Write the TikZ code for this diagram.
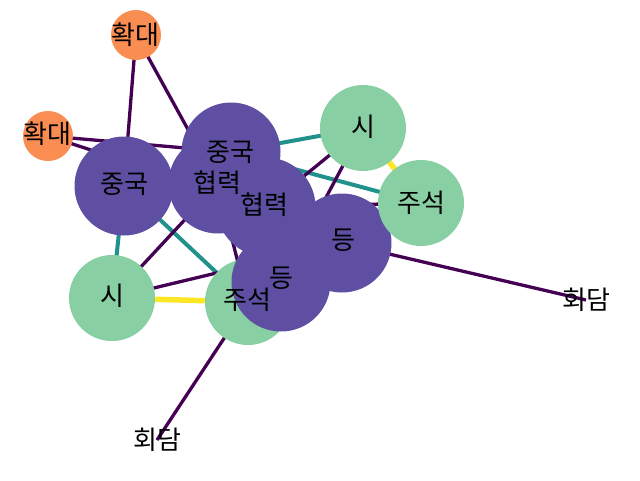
\documentclass[tikz,border=0pt]{standalone}
\usepackage{fontspec}
\newfontfamily\kr{Noto Sans CJK KR}
\definecolor{norange}{RGB}{250,142,82}
\definecolor{npurple}{RGB}{94,79,162}
\definecolor{ngreen}{RGB}{136,207,164}
\definecolor{edark}{RGB}{68,1,84}
\definecolor{eteal}{RGB}{33,145,140}
\definecolor{eyellow}{RGB}{253,231,37}
\begin{document}
\begin{tikzpicture}[x=1pt,y=-1pt,
  ed/.style={draw=edark,line width=3.3pt},
  et/.style={draw=eteal,line width=4pt},
  ey/.style={draw=eyellow,line width=5.5pt},
  small/.style={circle,fill=norange,minimum size=50pt,inner sep=0pt},
  big/.style={circle,fill=npurple,minimum size=99pt,inner sep=0pt},
  mid/.style={circle,fill=ngreen,minimum size=86pt,inner sep=0pt},
  lab/.style={font=\kr\fontsize{26}{26}\selectfont,text=black,inner sep=0pt}]
\useasboundingbox (0,0) rectangle (640,480);
% positions
\coordinate (pHt) at (136,35);
\coordinate (pHl) at (48,136);
\coordinate (pCl) at (124,186);
\coordinate (pCm) at (231,152);
\coordinate (pXa) at (218,184);
\coordinate (pXb) at (266,207);
\coordinate (pDa) at (342,243);
\coordinate (pDb) at (281,282);
\coordinate (pSr) at (363,128);
\coordinate (pJr) at (421,203);
\coordinate (pSl) at (112,298);
\coordinate (pJl) at (248,302);
\coordinate (pMr) at (586,300);
\coordinate (pMb) at (157,440);
% edges
\draw[ed] (pHt) -- (pCl);
\draw[ed] (pHt) -- (pXa);
\draw[ed] (pHl) -- (pCm);
\draw[ed] (pHl) -- (pXb);
\draw[et] (pCm) -- (pSr);
\draw[et] (pCm) -- (pJr);
\draw[ed] (pSr) -- (pXb);
\draw[ed] (pSr) -- (pDb);
\draw[ey] (pSr) -- (pJr);
\draw[ed] (pXb) -- (pJr);
\draw[ed] (pDa) -- (pMr);
\draw[et] (pCl) -- (pSl);
\draw[et] (pCl) -- (pJl);
\draw[ed] (pSl) -- (pXa);
\draw[ed] (pSl) -- (pDa);
\draw[ey] (pSl) -- (pJl);
\draw[ed] (pXa) -- (pJl);
\draw[ed] (pJl) -- (pMb);
% nodes
\node[small] (Ht) at (pHt) {};
\node[small] (Hl) at (pHl) {};
\node[big] (Cl) at (pCl) {};
\node[big] (Cm) at (pCm) {};
\node[big] (Xa) at (pXa) {};
\node[big] (Xb) at (pXb) {};
\node[big] (Da) at (pDa) {};
\node[mid] (Sr) at (pSr) {};
\node[mid] (Jr) at (pJr) {};
\node[mid] (Sl) at (pSl) {};
\node[mid] (Jl) at (pJl) {};
\node[big] (Db) at (pDb) {};
% labels
\node[lab] (tHt) at (135,35) {확대};
\node[lab] (tHl) at (47,134) {확대};
\node[lab] (tCl) at (124,184) {중국};
\node[lab] (tCm) at (230,152) {중국};
\node[lab] (tXa) at (217,183) {협력};
\node[lab] (tXb) at (264,205) {협력};
\node[lab] (tSr) at (363,127) {시};
\node[lab] (tJr) at (421,203) {주석};
\node[lab] (tDa) at (343,240) {등};
\node[lab] (tDb) at (281,278) {등};
\node[lab] (tSl) at (112,296) {시};
\node[lab] (tJl) at (247,300) {주석};
\node[lab] (tMr) at (586,300) {회담};
\node[lab] (tMb) at (157,440) {회담};
\end{tikzpicture}
\end{document}
